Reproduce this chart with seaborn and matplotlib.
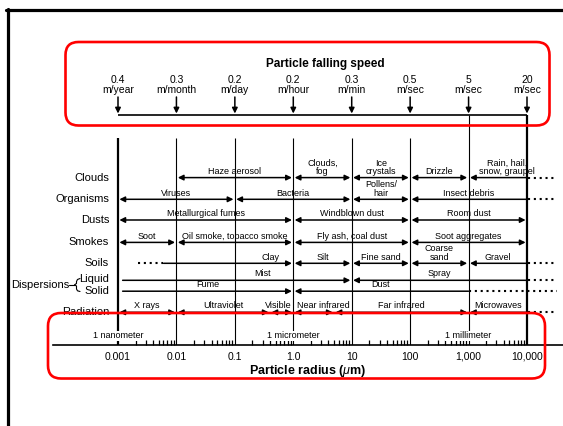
import matplotlib
matplotlib.use("Agg")
import matplotlib.pyplot as plt
import matplotlib.transforms as mtransforms
from matplotlib.patches import FancyBboxPatch
from matplotlib.lines import Line2D
from matplotlib.ticker import FixedLocator, NullFormatter
import seaborn as sns

# ---------------- data ----------------
radius_ticks = [0.001, 0.01, 0.1, 1.0, 10, 100, 1000, 10000]
radius_tick_labels = ["0.001", "0.01", "0.1", "1.0", "10", "100", "1,000", "10,000"]
speed_values = ["0.4", "0.3", "0.2", "0.2", "0.3", "0.5", "5", "20"]
speed_units = ["m/year", "m/month", "m/day", "m/hour", "m/min", "m/sec", "m/sec", "m/sec"]
unit_names = ["1 nanometer", "1 micrometer", "1 millimeter"]
unit_radii = [0.001, 1.0, 1000]

categories = ["Clouds", "Organisms", "Dusts", "Smokes", "Soils", "Liquid", "Solid", "Radiation"]

clouds = [("Haze aerosol", 0.01, 1), ("Clouds,\nfog", 1, 10), ("Ice\ncrystals", 10, 100),
          ("Drizzle", 100, 1000), ("Rain, hail,\nsnow, graupel", 1000, 10000)]
organisms = [("Viruses", 0.001, 0.1), ("Bacteria", 0.1, 10), ("Pollens/\nhair", 10, 100),
             ("Insect debris", 100, 10000)]
dusts = [("Metallurgical fumes", 0.001, 1), ("Windblown dust", 1, 100), ("Room dust", 100, 10000)]
smokes = [("Soot", 0.001, 0.01), ("Oil smoke, tobacco smoke", 0.01, 1),
          ("Fly ash, coal dust", 1, 100), ("Soot aggregates", 100, 10000)]
soils = [("Clay", 0.006, 1), ("Silt", 1, 10), ("Fine sand", 10, 100),
         ("Coarse\nsand", 100, 1000), ("Gravel", 1000, 10000)]
liquid = [("Mist", 0.0012, 10), ("Spray", 10, 10000)]
solid = [("Fume", 0.0012, 1), ("Dust", 1, 1000)]
radiation = [("X rays", 0.001, 0.01), ("Ultraviolet", 0.01, 0.4), ("Visible", 0.4, 1),
             ("Near infrared", 1, 5), ("Far infrared", 5, 1000), ("Microwaves", 1000, 10000)]
clay_dotted = [0.0022, 0.0058]

rows = [clouds, organisms, dusts, smokes, soils, liquid, solid, radiation]

# ---------------- styles / layout ----------------
W, H = 563, 426
D = 409 / 7.0  # pixels per decade


def px2um(x):
    return 10 ** (-3 + (x - 118) / D)


row_y = [177.6, 199.3, 220.0, 242.4, 263.3, 280.3, 291.2, 312.3]
head_style = {"Clay": "-|>", "Mist": "-|>", "Fume": "-|>", "Spray": "<|-", "Dust": "<|-",
              "Gravel": "<|-", "Insect debris": "<|-", "Rain, hail,\nsnow, graupel": "<|-",
              "Microwaves": "<|-"}
label_center = {"Clay": 0.4, "Mist": 0.3, "Visible": 0.55, "Near infrared": 3.3,
                "Rain, hail,\nsnow, graupel": 4500}
dotted_right = {"Rain, hail,\nsnow, graupel", "Insect debris", "Gravel", "Spray", "Dust", "Microwaves"}

sns.set_theme(style="white")
plt.rcParams["font.family"] = ["Liberation Sans", "DejaVu Sans"]
plt.rcParams["mathtext.fontset"] = "custom"
plt.rcParams["mathtext.it"] = "Liberation Sans:italic"
plt.rcParams["mathtext.rm"] = "Liberation Sans"
plt.rcParams["mathtext.bf"] = "Liberation Sans:bold"
plt.rcParams["text.color"] = "black"

fig = plt.figure(figsize=(W / 100, H / 100), dpi=100)
fig.patch.set_facecolor("white")
ax = fig.add_axes([53 / W, (H - 345) / H, (W - 53) / W, 345 / H])
ax.patch.set_visible(False)
ax.set_xscale("log")
ax.set_xlim(px2um(53), px2um(563))
ax.set_ylim(345, 0)
for s in ["top", "left", "right"]:
    ax.spines[s].set_visible(False)
ax.spines["bottom"].set_color("black")
ax.spines["bottom"].set_linewidth(1.2)
ax.set_yticks([])
ax.set_xticks(radius_ticks, radius_tick_labels)
ax.xaxis.set_minor_locator(FixedLocator([k * 10.0 ** e for e in range(-3, 4) for k in range(2, 10)]))
ax.xaxis.set_minor_formatter(NullFormatter())
ax.tick_params(axis="x", which="major", bottom=True, length=0, pad=5, labelsize=7.5, labelcolor="black")
ax.tick_params(axis="x", which="minor", bottom=True, direction="in", length=3.5, width=0.9, color="black")
ax.set_xlabel("Particle radius ($\\mathit{\\mu}$m)", fontsize=9, fontweight="bold", labelpad=1, color="black")

# decade vertical lines
for r in radius_ticks:
    top = 115 if r >= 1000 else 138
    lw = 1.6 if r in (0.001, 10000) else 0.8
    ax.vlines(r, top, 345, color="black", lw=lw, zorder=1)

# falling speed scale
ax.plot([0.001, 10000], [115, 115], color="black", lw=1.2, solid_capstyle="butt")
for r, v, u in zip(radius_ticks, speed_values, speed_units):
    ax.annotate("", xy=(r, 113.5), xytext=(r, 97),
                arrowprops=dict(arrowstyle="-|>", color="black", lw=1.1, mutation_scale=8,
                                shrinkA=0, shrinkB=0))
    ax.text(r, 95, f"{v}\n{u}", ha="center", va="bottom", fontsize=7.5, linespacing=0.95)
ax.text(px2um(325), 64, "Particle falling speed", ha="center", va="center",
        fontsize=8.5, fontweight="bold")

# category rows
for name, y in zip(categories, row_y):
    if name not in ("Liquid", "Solid"):
        ax.text(px2um(109), y, name, ha="right", va="center", fontsize=8)
ax.text(px2um(109), 278.5, "Liquid", ha="right", va="center", fontsize=8)
ax.text(px2um(109), 290.5, "Solid", ha="right", va="center", fontsize=8)
ax.text(px2um(11), 284.5, "Dispersions", ha="left", va="center", fontsize=8)
bx = [80, 77.5, 76.5, 76.5, 74.5, 76.5, 76.5, 77.5, 80]
by = [278.5, 279.5, 281.5, 283.5, 284.8, 286, 289, 290.8, 291.5]
ax.plot([px2um(x) for x in bx], by, color="black", lw=0.8, clip_on=False)
ax.plot([px2um(69), px2um(74.5)], [284.8, 284.8], color="black", lw=0.8, clip_on=False)

for segs, y in zip(rows, row_y):
    for label, lo, hi in segs:
        style = head_style.get(label, "<|-|>")
        sA = 1.0 if style.startswith("<") else 0
        sB = 1.0 if style.endswith(">") else 0
        ax.annotate("", xy=(hi, y), xytext=(lo, y),
                    arrowprops=dict(arrowstyle=style, color="black", lw=1.1, mutation_scale=8,
                                    shrinkA=sA, shrinkB=sB), zorder=3)
        cx = label_center.get(label, (lo * hi) ** 0.5)
        ax.text(cx, y - 1.8, label, ha="center", va="bottom", fontsize=6.5, linespacing=0.9, zorder=4)
        if label in dotted_right:
            ax.plot([hi * 1.03, px2um(557)], [y, y], color="black", lw=1.5,
                    ls=(0, (1.0, 1.8)), clip_on=False)
ax.plot(clay_dotted, [row_y[4]] * 2, color="black", lw=1.5, ls=(0, (1.0, 1.8)))

# unit names on radius axis
for r, n in zip(unit_radii, unit_names):
    ax.text(r, 336, n, ha="center", va="center", fontsize=6.5, zorder=5,
            bbox=dict(fc="white", ec="none", pad=0.6))

# frame and red highlight boxes (pixel coordinates)
ident = mtransforms.IdentityTransform()
fig.add_artist(Line2D([5.5, W], [H - 9.5, H - 9.5], color="black", lw=2.3, transform=ident))
fig.add_artist(Line2D([7.5, 7.5], [0, H - 8.5], color="black", lw=2.3, transform=ident))
for x0, y0, x1, y1 in [(65.5, 42, 549.5, 125.5), (48, 313, 545, 378.5)]:
    fig.add_artist(FancyBboxPatch((x0, H - y1), x1 - x0, y1 - y0,
                                  boxstyle="round,pad=0,rounding_size=13",
                                  fill=False, ec=(1, 0, 0), lw=1.9, transform=ident, zorder=10))

fig.savefig("out.png", dpi=100)
